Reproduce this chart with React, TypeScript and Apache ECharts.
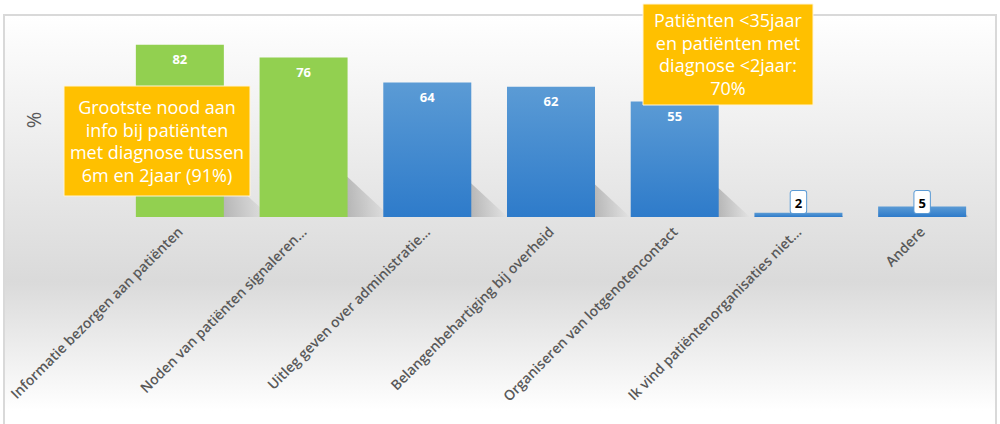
import React, { useEffect, useRef } from "react";
import * as echarts from "echarts";

const categories = [
  "Informatie bezorgen aan patiënten",
  "Noden van patiënten signaleren…",
  "Uitleg geven over administratie…",
  "Belangenbehartiging bij overheid",
  "Organiseren van lotgenotencontact",
  "Ik vind patiëntenorganisaties niet…",
  "Andere",
];
const values = [82, 76, 64, 62, 55, 2, 5];
const barKinds = ["green", "green", "blue", "blue", "blue", "blue", "blue"];
const yAxisLabel = "%";
const callout1 = "Grootste nood aan\ninfo bij patiënten\nmet diagnose tussen\n6m en 2jaar (91%)";
const callout2 = "Patiënten <35jaar\nen patiënten met\ndiagnose <2jaar:\n70%";

const FONT = '"Open Sans", "Noto Sans", sans-serif';
const BAR_W = 88;

export default function App() {
  const ref = useRef<HTMLDivElement>(null);
  useEffect(() => {
    document.body.style.margin = "0";
    const chart = echarts.init(ref.current!, null, { renderer: "svg" });
    const blueGrad = new echarts.graphic.LinearGradient(0, 0, 0, 1, [
      { offset: 0, color: "#5b9bd5" },
      { offset: 1, color: "#2e7bca" },
    ]);
    const barData = values.map((v, i) => {
      const small = v < 10;
      return {
        value: v,
        itemStyle: { color: barKinds[i] === "green" ? "#92d050" : blueGrad },
        label: small
          ? {
              show: true,
              position: "insideBottom",
              distance: 4,
              color: "#000",
              fontWeight: "bold",
              fontSize: 13,
              fontFamily: FONT,
              backgroundColor: "#fff",
              borderColor: "#5b9bd5",
              borderWidth: 1,
              borderRadius: 2,
              padding: [4, 4, 3, 4],
              lineHeight: 15,
            }
          : {
              show: true,
              position: "insideTop",
              distance: 8,
              color: "#fff",
              fontWeight: "bold",
              fontSize: 13,
              fontFamily: FONT,
            },
      };
    });
    const option: any = {
      animation: false,
      grid: { left: 118, right: 16, top: 7, bottom: 207 },
      xAxis: {
        type: "category",
        data: categories,
        axisLine: { show: false },
        axisTick: { show: false },
        axisLabel: {
          interval: 0,
          rotate: 45,
          margin: 12,
          color: "#595959",
          fontSize: 14,
          fontWeight: 600,
          fontFamily: FONT,
        },
      },
      yAxis: {
        type: "value",
        min: 0,
        max: 100,
        show: false,
      },
      graphic: [
        {
          type: "rect",
          z: -100,
          shape: { x: 4, y: 15, width: 992, height: 430 },
          style: {
            fill: new echarts.graphic.LinearGradient(0, 0, 0, 1, [
              { offset: 0, color: "#ffffff" },
              { offset: 0.45, color: "#e4e4e4" },
              { offset: 0.62, color: "#dadada" },
              { offset: 0.92, color: "#ffffff" },
              { offset: 1, color: "#ffffff" },
            ]),
            stroke: "#d9d9d9",
            lineWidth: 2,
          },
        },
        {
          type: "text",
          x: 33,
          y: 120,
          rotation: Math.PI / 2,
          z: 10,
          style: {
            text: yAxisLabel,
            fill: "#595959",
            fontSize: 20,
            fontFamily: FONT,
            textAlign: "center",
            textVerticalAlign: "middle",
          },
        },
        {
          type: "rect",
          z: 100,
          shape: { x: 64, y: 86, width: 186, height: 110 },
          style: { fill: "#ffc000", stroke: "#fff4d6", lineWidth: 1 },
        },
        {
          type: "text",
          z: 101,
          x: 157,
          y: 141,
          style: {
            text: callout1,
            fill: "#fff",
            fontSize: 18,
            fontFamily: FONT,
            lineHeight: 22.5,
            textAlign: "center",
            textVerticalAlign: "middle",
          },
        },
        {
          type: "rect",
          z: 100,
          shape: { x: 643, y: 4, width: 170, height: 101 },
          style: { fill: "#ffc000", stroke: "#fff4d6", lineWidth: 1 },
        },
        {
          type: "text",
          z: 101,
          x: 728,
          y: 54,
          style: {
            text: callout2,
            fill: "#fff",
            fontSize: 18,
            fontFamily: FONT,
            lineHeight: 22.7,
            textAlign: "center",
            textVerticalAlign: "middle",
          },
        },
      ],
      series: [
        {
          type: "custom",
          z: 1,
          silent: true,
          data: values.map((v, i) => [i, v]),
          renderItem: (params: any, api: any) => {
            const idx = api.value(0);
            const v = api.value(1);
            const top = api.coord([idx, v]);
            const base = api.coord([idx, 0]);
            const barH = base[1] - top[1];
            const h = barH * 0.25;
            const d = barH * 0.27;
            const L = top[0] - BAR_W / 2;
            const R = top[0] + BAR_W / 2;
            const B = base[1];
            const frac = BAR_W / (BAR_W + d);
            return {
              type: "polygon",
              shape: {
                points: [
                  [L, B - h],
                  [R, B - h],
                  [R + d, B],
                  [L + d, B],
                ],
              },
              style: {
                fill: new echarts.graphic.LinearGradient(0, 0, 1, 0, [
                  { offset: 0, color: "rgba(0,0,0,0.24)" },
                  { offset: frac, color: "rgba(0,0,0,0.2)" },
                  { offset: 1, color: "rgba(0,0,0,0.0)" },
                ]),
              },
            };
          },
        },
        {
          type: "bar",
          z: 2,
          barWidth: BAR_W,
          data: barData,
        },
      ],
    };
    chart.setOption(option);
    return () => chart.dispose();
  }, []);
  return <div ref={ref} style={{ width: 1000, height: 424 }} />;
}
